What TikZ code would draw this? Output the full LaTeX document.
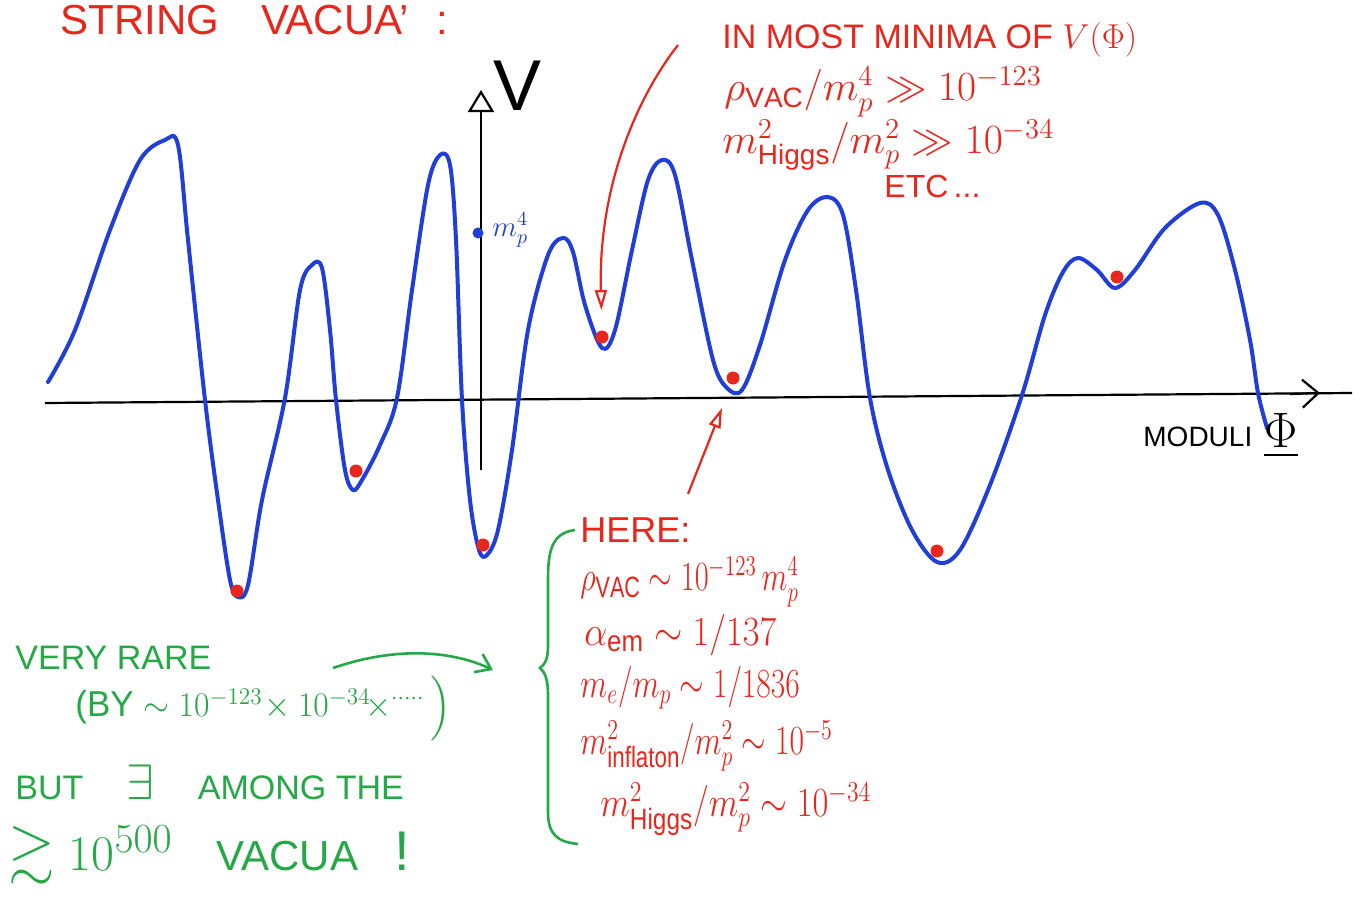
\documentclass[tikz,border=0pt]{standalone}
\usepackage{fontspec}
\usepackage{graphicx}
\usepackage{amsmath,amssymb}
\setmainfont{Liberation Sans}
\usetikzlibrary{arrows.meta}
\definecolor{pred}{HTML}{E8261C}
\definecolor{pblue}{HTML}{1F3FD8}
\definecolor{pgreen}{HTML}{25A846}
\newcommand{\hsq}[2]{\scalebox{#1}[1]{#2}}
\begin{document}
\begin{tikzpicture}[x=0.5pt,y=-0.5pt,
  hand/.style={inner sep=0pt, anchor=west},
  rtext/.style={hand, text=pred},
  gtext/.style={hand, text=pgreen},
  vdot/.style={circle, fill=pred, inner sep=0pt, minimum size=6.5pt},
  curve/.style={pblue, line width=2pt, line join=round, line cap=round},
  axisline/.style={black, line width=1.1pt},
  redarrow/.style={pred, line width=1.1pt, -{Triangle[open, length=10pt, width=6pt]}},
  grnarrow/.style={pgreen, line width=1.3pt, -{Straight Barb[length=7pt, width=10pt]}}
]
\fill[white] (0,0) rectangle (1363,904);
\useasboundingbox (0,0) rectangle (1363,904);

% axes
\coordinate (xa0) at (45,403);
\coordinate (xa1) at (1352,393);
\draw[axisline] (xa0) -- (xa1);
\coordinate (xtipback) at (1290,394);
\coordinate (xtip) at (1320,393);
\draw[axisline, -{Straight Barb[length=8pt, width=14pt]}] (xtipback) -- (xtip);
\coordinate (ya0) at (481,470);
\coordinate (ya1) at (481,90);
\draw[axisline, -{Triangle[open, length=11pt, width=13pt]}] (ya0) -- (ya1);
\node[inner sep=0pt] (V) at (518,86) {\fontsize{36}{40}\selectfont V};

% potential curve
\draw[curve] plot[smooth, tension=0.55] coordinates {
(48,382) (75,330) (110,230) (140,160) (165,140) (178,145) (188,240)
(205,400) (218,500) (230,580) (238,597) (248,585) (262,500) (285,398)
(300,290) (312,265) (322,268) (330,330) (336,400) (345,470) (353,490)
(362,480) (380,445) (397,398) (412,290) (428,185) (440,155) (450,165)
(456,240) (462,400) (470,500) (479,550) (487,555) (498,530) (512,450)
(528,330) (548,255) (563,238) (573,252) (585,305) (602,348) (615,330)
(632,250) (648,180) (662,160) (675,175) (692,260) (713,360) (727,388)
(742,390) (760,345) (785,260) (808,210) (828,197) (843,215) (856,290)
(870,398) (888,470) (912,530) (937,562) (960,550) (990,485) (1022,395)
(1045,315) (1063,272) (1078,258) (1097,270) (1115,288) (1135,270)
(1165,228) (1200,203) (1218,215) (1235,270) (1250,340) (1258,393) (1267,428)
};

% vacua dots
\node[vdot] (d1) at (237,591) {};
\node[vdot] (d2) at (356,471) {};
\node[vdot] (d3) at (483,545) {};
\node[vdot] (d4) at (602,337) {};
\node[vdot] (d5) at (733,378) {};
\node[vdot] (d6) at (937,551) {};
\node[vdot] (d7) at (1117,277) {};

% m_p^4 mark
\node[circle, fill=pblue, inner sep=0pt, minimum size=5.5pt] (mpd) at (478,233) {};
\node[hand, text=pblue] (mpl) at (492,230) {\fontsize{14}{16}\selectfont $m_p^4$};

% title
\node[rtext] (title) at (60,20) {\fontsize{21}{24}\selectfont STRING\quad VACUA'\hspace{14pt}:};

% top-right red text
\node[rtext] (t1) at (722,40) {\fontsize{17}{20}\selectfont IN MOST MINIMA OF $V(\Phi)$};
\node[rtext] (t2) at (724,92) {\fontsize{20}{22}\selectfont $\rho_{\mathrm{VAC}}/m_p^4 \gg 10^{-123}$};
\node[rtext] (t3) at (722,145) {\fontsize{20}{22}\selectfont $m^2_{\mathrm{Higgs}}/m_p^2 \gg 10^{-34}$};
\node[rtext] (t4) at (884,186) {\fontsize{16}{18}\selectfont ETC\,...};

% red arrows
\coordinate (ra1) at (678,45);
\draw[redarrow] (ra1) .. controls (635,100) and (598,190) .. (d4.north) [shorten >=10pt];
\coordinate (ra2) at (688,494);
\coordinate (ra2e) at (722,408);
\draw[redarrow] (ra2) -- (ra2e);

% moduli label
\node[hand] (mod) at (1143,437) {\fontsize{14}{16}\selectfont MODULI};
\node[hand] (phi) at (1264,436) {\fontsize{26}{28}\selectfont $\underline{\Phi}$};

% HERE block
\node[rtext] (h0) at (580,530) {\fontsize{18}{20}\selectfont HERE:};
\node[rtext] (h1) at (580,582) {\fontsize{21}{23}\selectfont \hsq{0.73}{$\rho_{\mathrm{VAC}}\sim 10^{-123}\,m_p^4$}};
\node[rtext] (h2) at (584,635) {\fontsize{21}{23}\selectfont \hsq{0.88}{$\alpha_{\mathrm{em}}\sim 1/137$}};
\node[rtext] (h3) at (580,688) {\fontsize{21}{23}\selectfont \hsq{0.76}{$m_e/m_p\sim 1/1836$}};
\node[rtext] (h4) at (580,746) {\fontsize{21}{23}\selectfont \hsq{0.76}{$m^2_{\mathrm{inflaton}}/m_p^2\sim 10^{-5}$}};
\node[rtext] (h5) at (600,809) {\fontsize{21}{23}\selectfont \hsq{0.83}{$m^2_{\mathrm{Higgs}}/m_p^2\sim 10^{-34}$}};

% green brace
\draw[pgreen, line width=1.3pt] (575,530) .. controls (552,533) and (548,550) .. (548,580)
  -- (548,645) .. controls (548,660) and (545,664) .. (540,668)
  .. controls (545,672) and (548,680) .. (548,695)
  -- (548,812) .. controls (548,835) and (558,842) .. (578,844);

% green text
\node[gtext] (g1) at (15,658) {\fontsize{17}{20}\selectfont VERY RARE};
\node[gtext] (g2) at (75,708) {\fontsize{18}{22}\selectfont \hsq{0.97}{(BY $\sim 10^{-123}\!\times 10^{-34}\!\times^{\cdot\cdot\cdot\cdot\cdot}$\,$\Big)$}};
\node[gtext] (g3) at (15,782) {\fontsize{17}{20}\selectfont BUT \quad {\fontsize{26}{28}\selectfont$\exists$} \quad AMONG THE};
\node[gtext] (g4) at (8,855) {{\fontsize{30}{32}\selectfont $\gtrsim 10^{500}$}\hspace{22pt}{\fontsize{21}{24}\selectfont VACUA}\hspace{18pt}{\fontsize{28}{30}\selectfont !}};

% green arrow
\coordinate (ga0) at (333,668);
\coordinate (ga1) at (493,670);
\draw[grnarrow] (ga0) .. controls (400,645) and (455,652) .. (ga1);
\end{tikzpicture}
\end{document}
